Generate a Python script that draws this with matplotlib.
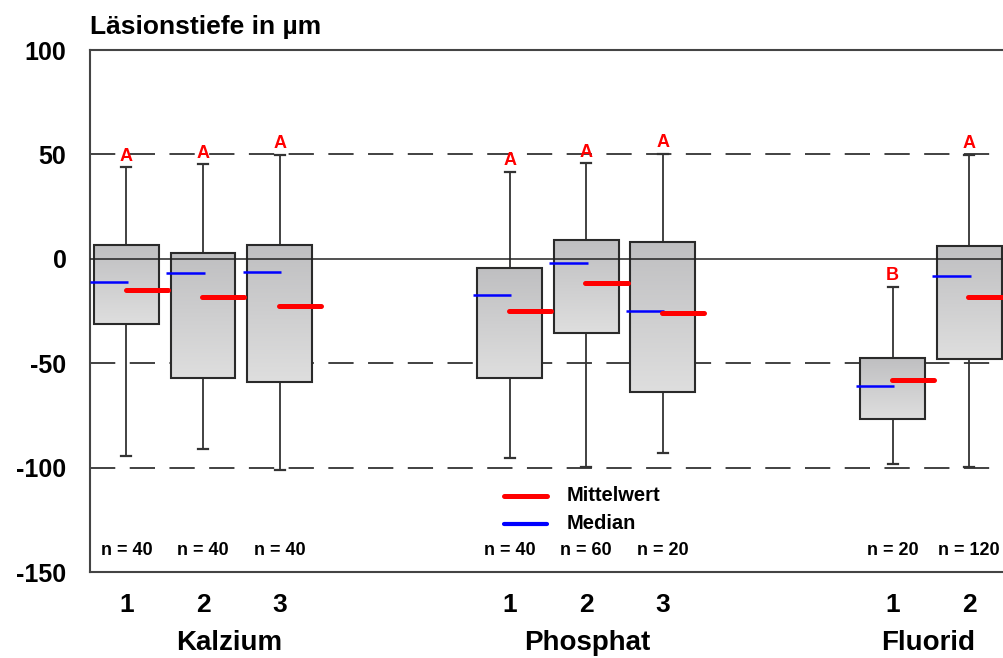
import numpy as np
import matplotlib
matplotlib.use("Agg")
import matplotlib.pyplot as plt
from matplotlib.patches import Rectangle

plt.rcParams['font.family'] = ['Liberation Sans', 'DejaVu Sans']

# ---- data ----
groups = ["Kalzium", "Phosphat", "Fluorid"]
group_sizes = [3, 3, 2]
group_label_x = [2.34, 7.01, 11.46]   # where the group names sit (data units)
sub_labels = ["1", "2", "3", "1", "2", "3", "1", "2"]
q3 = [6.7, 2.7, 6.7, -4.2, 9.0, 8.2, -47.3, 6.1]
q1 = [-31.3, -57.2, -59.2, -57.2, -35.5, -63.9, -76.6, -48.1]
whisk_hi = [43.8, 45.2, 49.9, 41.6, 45.7, 50.4, -13.3, 49.9]
whisk_lo = [-94.5, -91.0, -101.2, -95.3, -99.6, -93.0, -98.5, -99.6]
medians = [-10.9, -6.9, -6.1, -17.1, -1.9, -24.8, -60.9, -8.0]
means = [-15.0, -18.4, -22.7, -24.8, -11.7, -26.1, -58.0, -18.5]
letters = ["A", "A", "A", "A", "A", "A", "B", "A"]
n_vals = [40, 40, 40, 40, 60, 20, 20, 120]

# positions: 5 units between group starts
pos = []
for gi, size in enumerate(group_sizes):
    pos += [1 + 5 * gi + k for k in range(size)]

W, H = 1004, 658
fig = plt.figure(figsize=(W / 100, H / 100), dpi=100)
ax = fig.add_axes([90 / W, 86 / H, 998 / W, 522 / H])
ax.set_xlim(0.524, 13.55)
ax.set_ylim(-150, 100)

DARK = "#333333"
for y in (50, -50, -100):
    ax.axhline(y, color=DARK, lw=1.3, dashes=(14, 8), zorder=1)
ax.axhline(0, color="#222222", lw=1.1, zorder=5)

bw = 0.845
grad = np.linspace(0, 1, 64).reshape(-1, 1)
gcmap = matplotlib.colors.LinearSegmentedColormap.from_list("g", ["#dedede", "#bfbfc1"])
for i, x in enumerate(pos):
    # whiskers + caps
    ax.plot([x, x], [q3[i], whisk_hi[i]], color=DARK, lw=1.3, zorder=2)
    ax.plot([x, x], [q1[i], whisk_lo[i]], color=DARK, lw=1.3, zorder=2)
    for wv in (whisk_hi[i], whisk_lo[i]):
        ax.plot([x - 0.065, x + 0.065], [wv, wv], color=DARK, lw=1.6, zorder=2)
    # box with vertical gradient
    x0, x1 = x - bw / 2, x + bw / 2
    ax.imshow(grad, extent=[x0, x1, q1[i], q3[i]], aspect="auto",
              cmap=gcmap, origin="lower", zorder=3)
    ax.add_patch(Rectangle((x0, q1[i]), bw, q3[i] - q1[i], fill=False,
                           ec="#2a2a2a", lw=1.5, zorder=4))
    # median (left) and mean (right)
    ax.plot([x - 0.48, x + 0.02], [medians[i], medians[i]], color="#0000ff",
            lw=1.8, solid_capstyle="butt", zorder=6)
    ax.plot([x - 0.01, x + 0.54], [means[i], means[i]], color="#ff0000",
            lw=3.6, solid_capstyle="round", zorder=6)
    # letters
    ax.annotate(letters[i], (x, whisk_hi[i]), xytext=(0, 2), textcoords="offset points",
                ha="center", va="bottom", color="#ff0000", fontsize=13,
                fontweight="bold", zorder=7)
    ax.text(x, -139.5, f"n = {n_vals[i]}", ha="center", va="center",
            fontsize=13, fontweight="bold", zorder=7)

ax.set_xticks(pos)
ax.set_xticklabels(sub_labels, fontsize=19, fontweight="bold")
ax.tick_params(axis="x", length=0, pad=15)
ax.set_yticks([100, 50, 0, -50, -100, -150])
ax.set_yticklabels(["100", "50", "0", "-50", "-100", "-150"],
                   fontsize=18, fontweight="bold")
ax.tick_params(axis="y", length=0, pad=17)
for s in ax.spines.values():
    s.set_color("#444444")
    s.set_linewidth(1.5)

# group names
for gi, name in enumerate(groups):
    ax.text(group_label_x[gi], -184, name, ha="center", va="center",
            fontsize=20, fontweight="bold", clip_on=False)

# legend-like key
ax.plot([5.93, 6.49], [-113.5, -113.5], color="#ff0000", lw=3.6,
        solid_capstyle="round", zorder=6)
ax.plot([5.93, 6.49], [-127, -127], color="#0000ff", lw=3.0,
        solid_capstyle="round", zorder=6)
ax.text(6.74, -113.5, "Mittelwert", va="center", fontsize=14.5, fontweight="bold")
ax.text(6.74, -127, "Median", va="center", fontsize=14.5, fontweight="bold")

fig.text(90 / W, 1 - 27 / H, "Läsionstiefe in µm", ha="left", va="center",
         fontsize=19, fontweight="bold")

fig.savefig("out.png", dpi=100, facecolor="white")
